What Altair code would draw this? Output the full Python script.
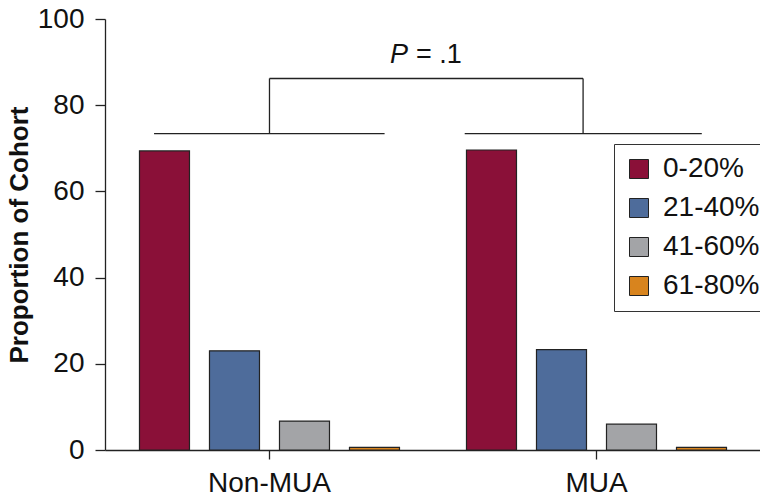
import altair as alt
import pandas as pd

groups = ["Non-MUA", "MUA"]
ranges = ["0-20%", "21-40%", "41-60%", "61-80%"]
non_mua = [69.4, 23.0, 6.7, 0.6]
mua = [69.6, 23.3, 6.0, 0.6]
colors = ["#8A1038", "#4E6C9B", "#A3A4A7", "#D8841E"]
y_ticks = [0, 20, 40, 60, 80, 100]
bracket_low = 73.4
bracket_high = 86.2
p_label_y = 89.7
p_text = "P"
p_value = "= .1"

rows = []
for g, vals in zip(groups, [non_mua, mua]):
    for r, v in zip(ranges, vals):
        rows.append({"group": g, "range": r, "value": v})
df = pd.DataFrame(rows)

FONT = "Liberation Sans"
INK = "#222222"

x_scale = alt.Scale(domain=groups, paddingInner=0, paddingOuter=0.0015, align=1)
y_scale = alt.Scale(domain=[0, 100], nice=False)

bars = alt.Chart(df).mark_bar(stroke=INK, strokeWidth=1.2).encode(
    x=alt.X("group:N", scale=x_scale, sort=groups,
            axis=alt.Axis(title=None, labelAngle=0, labelFontSize=28, labelFont=FONT,
                          tickSize=9, labelPadding=10, grid=False)),
    xOffset=alt.XOffset("range:N", sort=ranges,
                        scale=alt.Scale(domain=ranges, paddingInner=0.2857, paddingOuter=0.4785)),
    y=alt.Y("value:Q", scale=y_scale,
            axis=alt.Axis(title="Proportion of Cohort", values=y_ticks, grid=False,
                          labelFontSize=28, labelFont=FONT, tickSize=10, labelPadding=11,
                          titleFontSize=26, titleFont=FONT, titleFontWeight="bold",
                          titlePadding=5, titleColor="#111")),
    color=alt.Color("range:N", sort=ranges, scale=alt.Scale(domain=ranges, range=colors),
                    legend=alt.Legend(title=None, orient="none", legendX=509, legendY=125,
                                      labelFontSize=28, labelFont=FONT, labelColor="#111",
                                      symbolType="square", symbolSize=361,
                                      symbolStrokeColor=INK, symbolStrokeWidth=1,
                                      strokeColor="#333", fillColor="white", padding=11,
                                      rowPadding=11, labelOffset=10)),
)

one = alt.Data(values=[{}])


def hline(g1, b1, g2, b2, yv):
    return alt.Chart(one).mark_rule(color=INK, strokeWidth=1.3).encode(
        x=alt.XDatum(g1, type="nominal", bandPosition=b1),
        x2=alt.X2Datum(g2, bandPosition=b2),
        y=alt.YDatum(yv, type="quantitative"),
    )


def vline(g, b, y1, y2):
    return alt.Chart(one).mark_rule(color=INK, strokeWidth=1.3).encode(
        x=alt.XDatum(g, type="nominal", bandPosition=b),
        y=alt.YDatum(y1, type="quantitative"),
        y2=alt.Y2Datum(y2),
    )


layers = [
    bars,
    hline("Non-MUA", 0.147, "Non-MUA", 0.852, bracket_low),
    hline("MUA", 0.097, "MUA", 0.822, bracket_low),
    vline("Non-MUA", 0.5, bracket_low, bracket_high),
    vline("MUA", 0.459, bracket_low, bracket_high),
    hline("Non-MUA", 0.5, "MUA", 0.459, bracket_high),
    alt.Chart(one).mark_text(font=FONT, fontSize=27, fontStyle="italic", align="right",
                             baseline="alphabetic", dx=-2, color="#111", text=p_text).encode(
        x=alt.XDatum("Non-MUA", type="nominal", bandPosition=0.930),
        y=alt.YDatum(p_label_y, type="quantitative"),
    ),
    alt.Chart(one).mark_text(font=FONT, fontSize=27, align="left",
                             baseline="alphabetic", dx=6, color="#111", text=p_value).encode(
        x=alt.XDatum("Non-MUA", type="nominal", bandPosition=0.930),
        y=alt.YDatum(p_label_y, type="quantitative"),
    ),
]

chart = alt.layer(*layers).properties(
    width=655, height=431,
    autosize=alt.AutoSizeParams(type="none"),
    padding={"left": 97, "top": 11, "right": 0, "bottom": 50},
).configure_view(strokeWidth=0).configure_axis(
    domainColor=INK, tickColor=INK, domainWidth=1.3, tickWidth=1.3, labelColor="#111"
)

chart.save("out.html", embed_options={"renderer": "svg", "actions": False})
